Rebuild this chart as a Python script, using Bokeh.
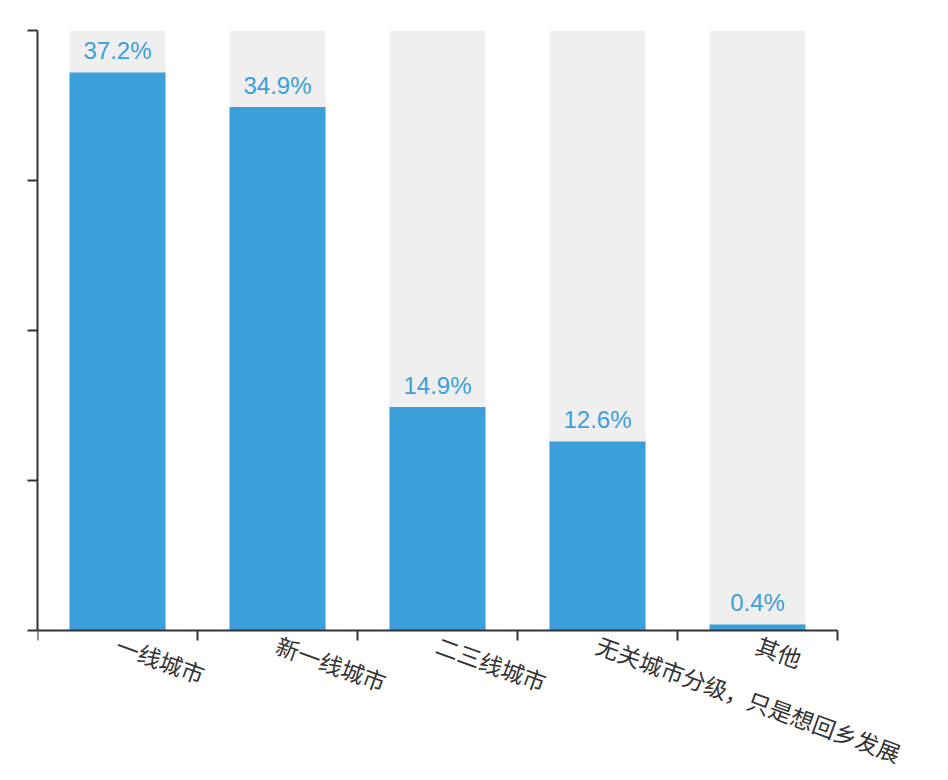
import math
from bokeh.plotting import figure
from bokeh.models import ColumnDataSource, FixedTicker, Range1d
from bokeh.core.properties import value
from bokeh.embed import file_html
from bokeh.resources import INLINE

categories = ["一线城市", "新一线城市", "二三线城市", "无关城市分级，只是想回乡发展", "其他"]
values = [37.2, 34.9, 14.9, 12.6, 0.4]
value_labels = ["37.2%", "34.9%", "14.9%", "12.6%", "0.4%"]
y_max = 40
y_ticks = [0, 10, 20, 30, 40]
y_min_view = -9.6  # room below the axis for the rotated category labels
x_extra = 0.6      # room right of the last category for the long label

BLUE = "#3ba0da"
GRAY = "#efefef"
AXIS = "#333333"

n = len(categories)
centers = [i + 0.5 for i in range(n)]

src = ColumnDataSource(dict(
    x=centers,
    v=values,
    bg=[y_max] * n,
    lab=value_labels,
    cat=categories,
    zero=[0] * n,
))

p = figure(frame_width=int(round(160 * (n + x_extra))),
           frame_height=int(round(15 * (y_max - y_min_view))),
           output_backend="svg", toolbar_location=None,
           x_range=Range1d(0, n + x_extra), y_range=Range1d(y_min_view, y_max),
           min_border_left=37, min_border_top=30, min_border_right=0,
           min_border_bottom=0)
p.outline_line_color = None
p.xgrid.visible = False
p.ygrid.visible = False

p.vbar(x="x", top="bg", width=0.6, bottom=0, source=src, color=GRAY, line_color=None)
p.vbar(x="x", top="v", width=0.6, bottom=0, source=src, color=BLUE, line_color=None)
p.text(x="x", y="v", text="lab", source=src, text_align="center",
       text_baseline="alphabetic", y_offset=-22, text_color=BLUE,
       text_font=value("Liberation Sans"), text_font_size="24px")

# category labels, rotated, hanging below the x axis
p.text(x="x", y="zero", text="cat", source=src,
       angle=-20 * math.pi / 180, angle_units="rad",
       text_align="left", text_baseline="middle",
       x_offset=0, y_offset=13,
       text_font=value("Noto Sans CJK SC"), text_font_size="23px",
       text_color=AXIS)

# y axis
yax = p.yaxis[0]
yax.ticker = FixedTicker(ticks=y_ticks, minor_ticks=[])
yax.bounds = (0, y_max)
yax.major_label_overrides = {t: "" for t in y_ticks}
yax.axis_line_color = AXIS
yax.axis_line_width = 2
yax.major_tick_line_color = AXIS
yax.major_tick_line_width = 2
yax.major_tick_out = 10
yax.major_tick_in = 0
yax.minor_tick_line_color = None
yax.major_label_standoff = 0

# x axis at y = 0, ticks at category boundaries
xax = p.xaxis[0]
xax.fixed_location = 0
xax.bounds = (0, n)
xax.ticker = FixedTicker(ticks=list(range(n + 1)), minor_ticks=[])
xax.major_label_overrides = {t: "" for t in range(n + 1)}
xax.axis_line_color = AXIS
xax.axis_line_width = 2
xax.major_tick_line_color = AXIS
xax.major_tick_line_width = 2
xax.major_tick_out = 10
xax.major_tick_in = 0
xax.minor_tick_line_color = None
xax.major_label_standoff = 0

open("out.html", "w").write(file_html(p, INLINE))
